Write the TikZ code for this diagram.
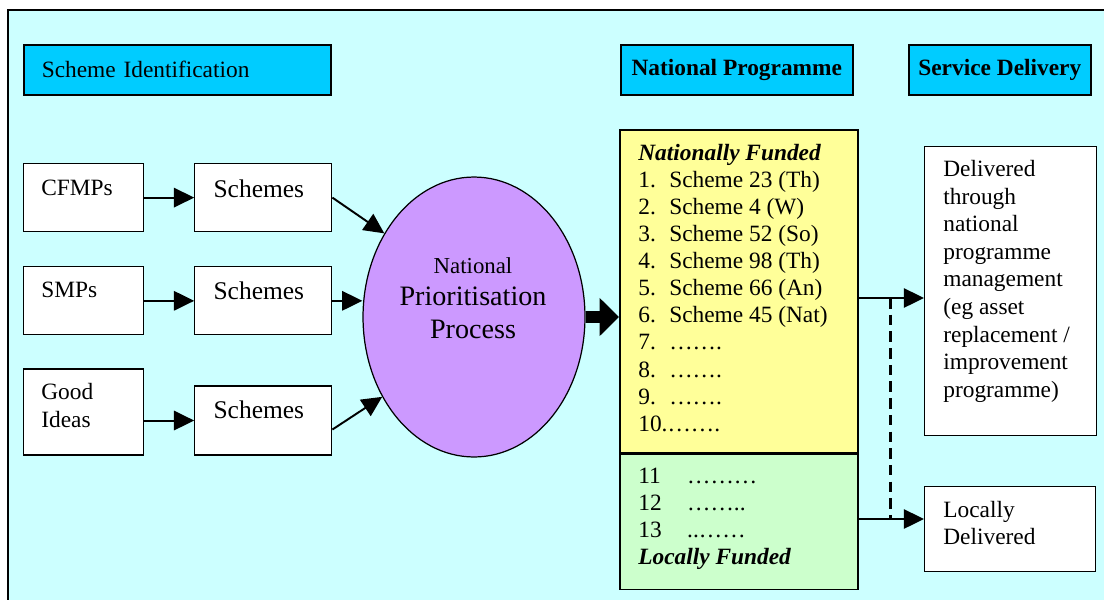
\documentclass[tikz,border=0pt]{standalone}
\usepackage{fontspec}
\setmainfont{Liberation Serif}
\usetikzlibrary{arrows.meta,calc,positioning,shapes.geometric}
\definecolor{paneblue}{HTML}{CCFFFF}
\definecolor{headblue}{HTML}{00CCFF}
\definecolor{lilac}{HTML}{CC99FF}
\definecolor{natyellow}{HTML}{FFFF99}
\definecolor{locgreen}{HTML}{CCFFCC}
\tikzset{%
	box/.style      = {draw, fill=white, rectangle, line width=0.7pt, inner sep=0pt},
	header/.style   = {draw, fill=headblue, rectangle, line width=0.9pt, minimum height=1cm, inner sep=0pt, font=\fontsize{13.3}{15.4}\selectfont},
	txt/.style      = {inner sep=0pt, font=\fontsize{13.3}{15.4}\selectfont},
	schtxt/.style   = {inner sep=0pt, font=\fontsize{14.5}{16.5}\selectfont},
	arrow/.style    = {line width=1.1pt, -{Triangle[length=11.5pt,width=11pt]}},
	bigarrow/.style = {line width=6.5pt, -{Triangle[length=11pt,width=21pt]}},
}

\begin{document}
\begin{tikzpicture}[x=0.02cm, y=-0.02cm, node distance=1cm]
\useasboundingbox (0,0) rectangle (1104,599);
\clip (0,0) rectangle (1104,599);
\fill[white] (0,0) rectangle (1104,599);
\draw[fill=paneblue, line width=1.3pt] (8,10) rectangle (1130,630);

% column headings
\node[header, anchor=north west, minimum width=6.14cm, text width=5.42cm, align=left] (ident) at (23,44) {Scheme Identification};
\node[header, anchor=north west, minimum width=4.64cm, font=\fontsize{13.3}{15.4}\selectfont\bfseries] (natprog) at (620,44) {National Programme};
\node[header, anchor=north west, minimum width=3.64cm, font=\fontsize{13.3}{15.4}\selectfont\bfseries] (servdel) at (908,44) {Service Delivery};

% sources and schemes
\node[box, anchor=north west, minimum width=2.4cm, minimum height=1.36cm] (cfmp) at (23,163) {};
\node[box, right=of cfmp, minimum width=2.74cm, minimum height=1.36cm] (sch1) {};
\node[box, below=0.68cm of cfmp, minimum width=2.4cm, minimum height=1.36cm] (smp) {};
\node[box, right=of smp, minimum width=2.74cm, minimum height=1.36cm] (sch2) {};
\node[box, below=0.66cm of smp, minimum width=2.4cm, minimum height=1.72cm] (idea) {};
\node[box, right=of idea.south east, anchor=south west, minimum width=2.74cm, minimum height=1.38cm] (sch3) {};

\node[txt, anchor=base west] (cfmptxt) at ($(cfmp.north west)+(18,32)$) {CFMPs};
\node[txt, anchor=base west] (smptxt) at ($(smp.north west)+(18,31)$) {SMPs};
\node[txt, anchor=north west, align=left] (ideatxt) at ($(idea.north west)+(18,15)$) {Good\\Ideas};
\node[schtxt, anchor=base west] (sch1txt) at ($(sch1.north west)+(19,34)$) {Schemes};
\node[schtxt, anchor=base west] (sch2txt) at ($(sch2.north west)+(19,33)$) {Schemes};
\node[schtxt, anchor=base west] (sch3txt) at ($(sch3.north west)+(19,33)$) {Schemes};

% prioritisation
\node[draw, ellipse, fill=lilac, line width=0.7pt, minimum width=4.44cm, minimum height=5.6cm, inner sep=0pt] (npp) at (474,317) {};
\node[align=center, inner sep=0pt, font=\fontsize{16}{18.4}\selectfont] (npptxt) at (473,298) {{\fontsize{13}{18.4}\selectfont National}\\Prioritisation\\Process};

% programme lists
\node[draw, fill=natyellow, line width=0.9pt, anchor=north west, minimum width=4.76cm, minimum height=6.46cm, inner sep=0pt] (natl) at (619,129) {};
\node[draw, fill=locgreen, line width=0.9pt, below=0pt of natl, minimum width=4.76cm, minimum height=2.7cm, inner sep=0pt] (locf) {};

\node[txt, anchor=north west, align=left] (natlist) at ($(natl.north west)+(19,15)$) {%
	\textbf{\textit{Nationally Funded}}\\
	\makebox[17.6pt][l]{1.}Scheme 23 (Th)\\
	\makebox[17.6pt][l]{2.}Scheme 4 (W)\\
	\makebox[17.6pt][l]{3.}Scheme 52 (So)\\
	\makebox[17.6pt][l]{4.}Scheme 98 (Th)\\
	\makebox[17.6pt][l]{5.}Scheme 66 (An)\\
	\makebox[17.6pt][l]{6.}Scheme 45 (Nat)\\
	\makebox[17.6pt][l]{7.}…….\\
	\makebox[17.6pt][l]{8.}…….\\
	\makebox[17.6pt][l]{9.}…….\\
	10.…….};
\node[txt, anchor=north west, align=left] (loclist) at ($(locf.north west)+(19,14)$) {%
	\makebox[27.8pt][l]{11}………\\
	\makebox[27.8pt][l]{12}……..\\
	\makebox[27.8pt][l]{13}..……\\
	\textbf{\textit{Locally Funded}}};

% delivery routes
\node[box, anchor=north west, minimum width=3.44cm, minimum height=5.78cm] (deliv) at (924,146) {};
\node[txt, anchor=north west, align=left, font=\fontsize{13.3}{15.7}\selectfont] (delivtxt) at ($(deliv.north west)+(19,14)$) {Delivered\\through\\national\\programme\\management\\(eg asset\\replacement /\\improvement\\programme)};
\node[box, anchor=north west, minimum width=3.42cm, minimum height=1.7cm] (locd) at (924,486) {};
\node[txt, anchor=north west, align=left] (locdtxt) at ($(locd.north west)+(19,15)$) {Locally\\Delivered};

% connectors
\draw[arrow] (cfmp) -- (sch1);
\draw[arrow] (smp) -- (sch2);
\draw[arrow] (idea.east |- sch3.west) -- (sch3.west);
\draw[arrow] (sch1.east) -- (npp.137);
\draw[arrow] (sch2.east) -- (sch2.east -| npp.west);
\draw[arrow] ($(sch3.east)+(0,9)$) -- (npp.221);
\draw[bigarrow] (npp.east) -- (npp.east -| natl.west);

\coordinate (fork) at (890,298);
\coordinate (join) at (890,519);
\draw[arrow] (natl.east |- fork) -- (fork -| deliv.west);
\draw[arrow] (locf.east |- join) -- (join -| locd.west);
\draw[line width=1.7pt, dash pattern=on 6pt off 3.5pt] (fork) -- (join);
\end{tikzpicture}
\end{document}
